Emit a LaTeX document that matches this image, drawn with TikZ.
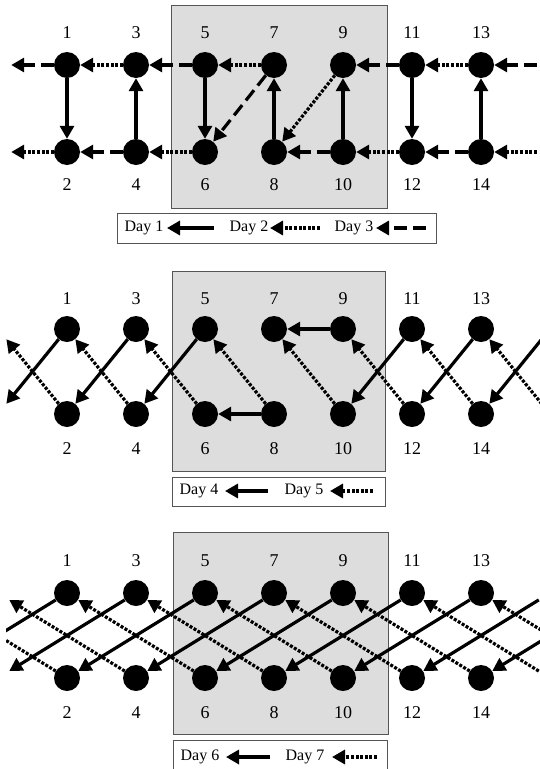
\documentclass[tikz,border=0pt]{standalone}
\usepackage{fontspec}
\setmainfont{Liberation Serif}
\usetikzlibrary{arrows.meta}

\definecolor{panelgray}{RGB}{221,221,221}
\definecolor{framegray}{RGB}{85,85,85}

\tikzset{
    ball/.style={circle, fill=black, inner sep=0pt, minimum size=26pt},
    ghost/.style={circle, inner sep=0pt, minimum size=26pt},
    num/.style={font=\fontsize{18}{20}\selectfont},
    daytext/.style={font=\fontsize{16}{18}\selectfont},
    arr/.style={-{Triangle[length=13pt,width=14pt]}, line cap=butt, line width=3.2pt},
    dayplain/.style={arr},
    daydot/.style={arr, dash pattern=on 3pt off 1.6pt},
    daydash/.style={arr, dash pattern=on 13pt off 6pt},
    panel/.style={draw=framegray, fill=panelgray, line width=0.9pt},
    keybox/.style={draw=framegray, fill=white, line width=0.9pt}
}

\begin{document}
\begin{tikzpicture}[x=1pt, y=-1pt]
    \useasboundingbox (0,0) rectangle (540,769);

    % Cuadros grises y leyendas
    \draw[panel] (171,5) rectangle (387,208);
    \draw[keybox] (117,213) rectangle (436,243);
    \draw[panel] (172,271) rectangle (385,471);
    \draw[keybox] (172,477) rectangle (385,506);
    \draw[panel] (173,532) rectangle (388,734);
    \draw[keybox] (173,740) rectangle (387,778);

    % Nodos y etiquetas de los tres esquemas
    \foreach \p/\yt/\yb/\lt/\lb in {a/65/152/33/185, b/329/414/299/449, c/593/678/561/713} {
        \foreach \c in {1,...,7} {
            \pgfmathtruncatemacro\t{2*\c-1}
            \pgfmathtruncatemacro\b{2*\c}
            \node[ball] (\p\t) at ({67+69*(\c-1)},\yt) {};
            \node[ball] (\p\b) at ({67+69*(\c-1)},\yb) {};
            \node[num] (\p lab\t) at ({67+69*(\c-1)},\lt) {\t};
            \node[num] (\p lab\b) at ({67+69*(\c-1)},\lb) {\b};
        }
        % columnas fuera del dibujo
        \foreach \c in {-1,0,8,9} {
            \pgfmathtruncatemacro\t{2*\c-1}
            \pgfmathtruncatemacro\b{2*\c}
            \node[ghost] (\p\t) at ({67+69*(\c-1)},\yt) {};
            \node[ghost] (\p\b) at ({67+69*(\c-1)},\yb) {};
        }
    }

    \begin{scope}
        \clip (6,0) rectangle (540,769);

        % Días 1, 2 y 3
        \foreach \s/\e in {1/2, 4/3, 5/6, 8/7, 10/9, 11/12, 14/13}
            \draw[dayplain] (a\s) -- (a\e);
        \foreach \s/\e in {3/1, 7/5, 13/11, 9/8, 2/0, 6/4, 12/10, 16/14}
            \draw[daydot] (a\s) -- (a\e);
        \foreach \s/\e in {1/-1, 5/3, 11/9, 15/13, 7/6, 4/2, 10/8, 14/12}
            \draw[daydash] (a\s) -- (a\e);

        % Días 4 y 5
        \foreach \s/\e in {1/0, 3/2, 5/4, 9/7, 8/6, 11/10, 13/12, 15/14}
            \draw[dayplain] (b\s) -- (b\e);
        \foreach \s/\e in {2/-1, 4/1, 6/3, 8/5, 10/7, 12/9, 14/11, 16/13}
            \draw[daydot] (b\s) -- (b\e);

        % Días 6 y 7
        \foreach \s/\e in {1/-2, 3/0, 5/2, 7/4, 9/6, 11/8, 13/10, 15/12, 17/14}
            \draw[dayplain] (c\s) -- (c\e);
        \foreach \s/\e in {2/-3, 4/-1, 6/1, 8/3, 10/5, 12/7, 14/9, 16/11, 18/13}
            \draw[daydot] (c\s) -- (c\e);
    \end{scope}

    % Leyendas
    \node[daytext] (day1) at (144,228) {Day 1};
    \coordinate (k1s) at (214,228);
    \coordinate (k1e) at (167,228);
    \draw[dayplain] (k1s) -- (k1e);
    \node[daytext] (day2) at (249,228) {Day 2};
    \coordinate (k2s) at (320,228);
    \coordinate (k2e) at (270,228);
    \draw[daydot] (k2s) -- (k2e);
    \node[daytext] (day3) at (354,228) {Day 3};
    \coordinate (k3s) at (426,228);
    \coordinate (k3e) at (376,228);
    \draw[daydash] (k3s) -- (k3e);

    \node[daytext] (day4) at (199,491) {Day 4};
    \coordinate (k4s) at (268,491);
    \coordinate (k4e) at (225,491);
    \draw[dayplain] (k4s) -- (k4e);
    \node[daytext] (day5) at (304,491) {Day 5};
    \coordinate (k5s) at (373,491);
    \coordinate (k5e) at (330,491);
    \draw[daydot] (k5s) -- (k5e);

    \node[daytext] (day6) at (200,757) {Day 6};
    \coordinate (k6s) at (270,757);
    \coordinate (k6e) at (226,757);
    \draw[dayplain] (k6s) -- (k6e);
    \node[daytext] (day7) at (305,757) {Day 7};
    \coordinate (k7s) at (377,757);
    \coordinate (k7e) at (332,757);
    \draw[daydot] (k7s) -- (k7e);
\end{tikzpicture}
\end{document}
